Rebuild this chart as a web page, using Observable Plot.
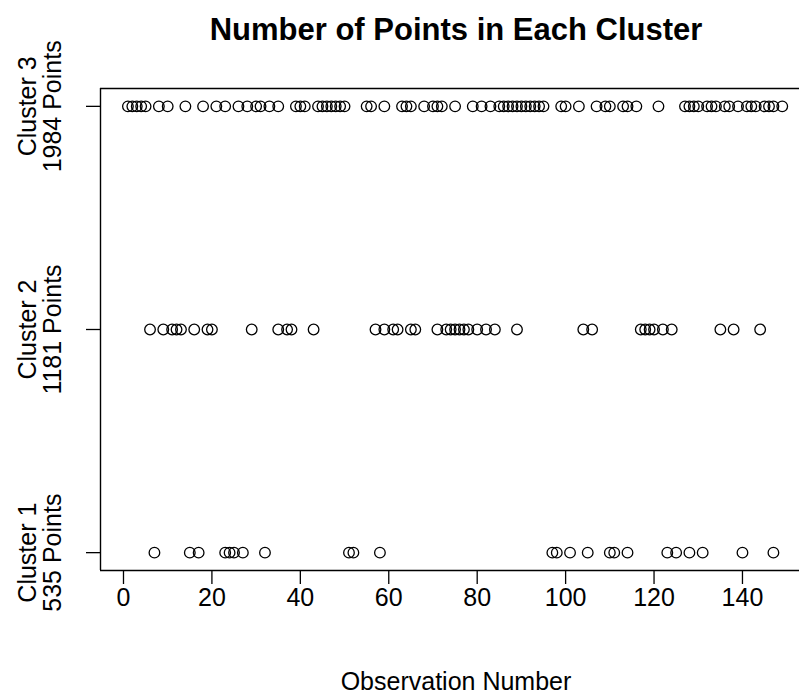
<!DOCTYPE html>
<html>
<head>
<meta charset="utf-8">
<script src="https://cdn.jsdelivr.net/npm/d3@7"></script>
<script src="https://cdn.jsdelivr.net/npm/@observablehq/plot@0.6"></script>
<style>
  html, body { margin: 0; padding: 0; background: #fff; overflow: hidden; }
</style>
</head>
<body>
<div id="chart"></div>
<script>
// Observation numbers assigned to each cluster
const cluster1 = [7, 15, 17, 23, 24, 25, 27, 32, 51, 52, 58, 97, 98, 101, 105, 110, 111, 114, 123, 125, 128, 131, 140, 147];
const cluster2 = [6, 9, 11, 12, 13, 16, 19, 20, 29, 35, 37, 38, 43, 57, 59, 61, 62, 65, 66, 71, 73, 74, 75, 76, 77, 78, 80, 82, 84, 89, 104, 106, 117, 118, 119, 120, 122, 124, 135, 138, 144];
const cluster3 = [1, 2, 3, 4, 5, 8, 10, 14, 18, 21, 23, 26, 28, 30, 31, 33, 35, 39, 40, 41, 44, 45, 46, 47, 48, 49, 50, 55, 56, 59, 63, 64, 65, 68, 70, 71, 72, 75, 79, 81, 83, 85, 86, 87, 88, 89, 90, 91, 92, 93, 94, 95, 99, 100, 103, 107, 109, 110, 113, 114, 116, 121, 127, 128, 129, 130, 132, 133, 134, 136, 137, 139, 141, 142, 143, 145, 146, 147, 149];

const clusterIds = [1, 2, 3];
const clusterNames = ["Cluster 1", "Cluster 2", "Cluster 3"];
const clusterCounts = [535, 1181, 1984];
const xTicks = [0, 20, 40, 60, 80, 100, 120, 140];
const titleText = "Number of Points in Each Cluster";
const xLabelText = "Observation Number";

const points = [
  ...cluster1.map(x => ({x, c: 1})),
  ...cluster2.map(x => ({x, c: 2})),
  ...cluster3.map(x => ({x, c: 3}))
];
const yLabels = clusterIds.map((c, i) => ({c, text: clusterNames[i] + "\n" + clusterCounts[i] + " Points"}));

const xDomain = [-5.2, 152.9];
const yDomain = [0.92, 3.08];

const chart = Plot.plot({
  width: 799,
  height: 694,
  marginLeft: 100,
  marginRight: 0,
  marginTop: 88,
  marginBottom: 124,
  style: {fontFamily: "'Liberation Sans', Arial, sans-serif", background: "#fff", color: "#000"},
  x: {domain: xDomain},
  y: {domain: yDomain},
  marks: [
    // box (top, bottom, left)
    Plot.ruleY([yDomain[0], yDomain[1]], {stroke: "#000", strokeWidth: 1.4}),
    Plot.ruleX([xDomain[0]], {stroke: "#000", strokeWidth: 1.4}),
    // x axis
    Plot.axisX(xTicks, {anchor: "bottom", tickSize: 14, tickPadding: 4, fontSize: 25, stroke: "#000", label: null, strokeWidth: 1.3}),
    // y ticks
    Plot.axisY(clusterIds, {anchor: "left", tickSize: 14, tickFormat: () => "", stroke: "#000", label: null, strokeWidth: 1.3}),
    // y tick labels (rotated, two lines)
    Plot.text(yLabels, {y: "c", text: "text", frameAnchor: "left", rotate: -90, dx: -60, textAnchor: "middle", lineAnchor: "middle", fontSize: 25, lineHeight: 1.0, fill: "#000"}),
    // points
    Plot.dot(points, {x: "x", y: "c", r: 5.3, stroke: "#000", strokeWidth: 1.3, fill: "none"}),
    // title
    Plot.text([titleText], {frameAnchor: "top", dy: -58, dx: 6, lineAnchor: "middle", fontSize: 31, fontWeight: "bold", fill: "#000"}),
    // x label
    Plot.text([xLabelText], {frameAnchor: "bottom", dy: 111, dx: 6, lineAnchor: "middle", fontSize: 25, fill: "#000"})
  ]
});
document.getElementById("chart").appendChild(chart);
</script>
</body>
</html>
